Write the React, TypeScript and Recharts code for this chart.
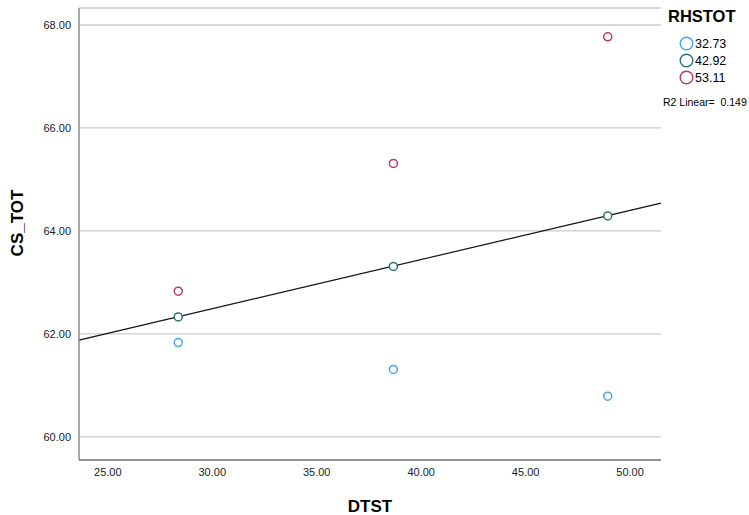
import React from 'react';
import {
  ScatterChart,
  Scatter,
  XAxis,
  YAxis,
  CartesianGrid,
  ReferenceLine,
  Legend,
  Label
} from 'recharts';

// DTST values for the three groups
const dtst = [28.37, 38.67, 48.93];

// CS_TOT by RHSTOT group
const low = [61.83, 61.31, 60.79];   // 32.73
const mid = [62.33, 63.31, 64.29];   // 42.92
const high = [62.83, 65.31, 67.77];  // 53.11

const groups = ['32.73', '42.92', '53.11'];
const colors = ['#45a6ee', '#2b7272', '#b53a6a'];

// fit line end points
const fitX = [23.62, 51.48];
const fitY = [61.88, 64.54];

const xTicks = [25, 30, 35, 40, 45, 50];
const yTicks = [60, 62, 64, 66, 68];

const toPoints = (ys: number[]) => dtst.map((x, i) => ({ x, y: ys[i] }));
const series = [low, mid, high].map(toPoints);

const FONT = '"Liberation Sans", Arial, sans-serif';

const RingShape = (color: string) => (props: any) => (
  <circle cx={props.cx} cy={props.cy} r={4} fill="#fff" stroke={color} strokeWidth={1.5} />
);

const LegendBox = () => (
  <div style={{ fontFamily: FONT, color: '#000', whiteSpace: 'nowrap', textAlign: 'left' }}>
    <div style={{ fontWeight: 'bold', fontSize: 16.5, marginLeft: 6, marginTop: 6, lineHeight: '20px' }}>
      RHSTOT
    </div>
    <div style={{ marginTop: 9 }}>
      {groups.map((g, i) => (
        <div key={g} style={{ display: 'flex', alignItems: 'center', height: 17, marginLeft: 17 }}>
          <svg width={15} height={15}>
            <circle cx={7.5} cy={7.5} r={6.3} fill="none" stroke={colors[i]} strokeWidth={1.4} />
          </svg>
          <span style={{ fontSize: 12.5, marginLeft: 1 }}>{g}</span>
        </div>
      ))}
    </div>
    <div style={{ fontSize: 10.5, marginTop: 10, marginLeft: 1 }}>R2 Linear=&nbsp;&nbsp;0.149</div>
  </div>
);

const YTitle = ({ viewBox }: any) => {
  const x = viewBox.x + 17;
  const y = 223;
  return (
    <text
      x={x}
      y={y}
      transform={`rotate(-90, ${x}, ${y})`}
      textAnchor="middle"
      dominantBaseline="central"
      fontFamily={FONT}
      fontWeight="bold"
      fontSize={17}
      fill="#000"
    >
      CS_TOT
    </text>
  );
};

export default function App() {
  return (
    <div style={{ width: 749, height: 515, overflow: 'hidden', background: '#fff', position: 'relative' }}>
      <style>{`body{margin:0}`}</style>
      <ScatterChart width={749} height={515} margin={{ top: 8, right: 88, bottom: 0, left: 0 }}>
        <CartesianGrid vertical={false} stroke="#cbcbcb" strokeWidth={1.3} />
        <XAxis
          type="number"
          dataKey="x"
          domain={[23.62, 51.48]}
          ticks={xTicks}
          tickFormatter={(v: number) => v.toFixed(2)}
          tickLine={false}
          height={55}
          stroke="#7a7a7a"
          strokeWidth={1.3}
          tick={{ fill: '#222', fontSize: 11, fontFamily: FONT }}
          allowDataOverflow
        >
          <Label
            value="DTST"
            position="insideBottom"
            offset={3}
            style={{ fontFamily: FONT, fontWeight: 'bold', fontSize: 17, fill: '#000' }}
          />
        </XAxis>
        <YAxis
          type="number"
          dataKey="y"
          domain={[59.55, 68.33]}
          ticks={yTicks}
          tickFormatter={(v: number) => v.toFixed(2)}
          tickLine={false}
          width={79}
          stroke="#7a7a7a"
          strokeWidth={1.3}
          tick={{ fill: '#222', fontSize: 11, fontFamily: FONT }}
          allowDataOverflow
        >
          <Label content={<YTitle />} />
        </YAxis>
        <ReferenceLine
          segment={[
            { x: fitX[0], y: fitY[0] },
            { x: fitX[1], y: fitY[1] }
          ]}
          stroke="#111"
          strokeWidth={1.2}
          ifOverflow="visible"
        />
        {series.map((pts, i) => (
          <Scatter
            key={groups[i]}
            name={groups[i]}
            data={pts}
            shape={RingShape(colors[i])}
            isAnimationActive={false}
          />
        ))}
        <Legend
          content={<LegendBox />}
          layout="horizontal"
          verticalAlign="middle"
          align="center"
          wrapperStyle={{ position: 'absolute', left: 662, top: 0, width: 100 }}
        />
      </ScatterChart>
    </div>
  );
}
